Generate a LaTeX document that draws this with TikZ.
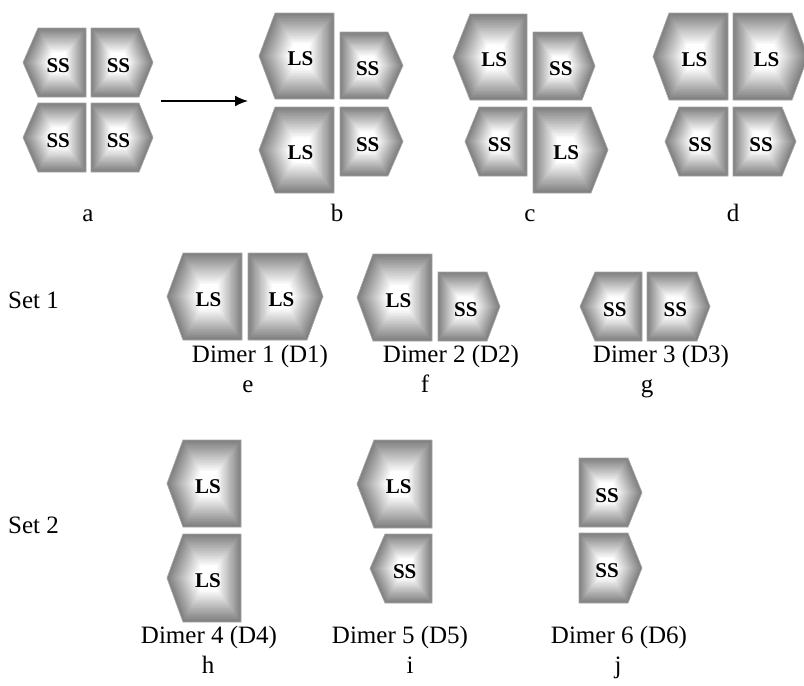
\documentclass[tikz,border=0pt]{standalone}
\usepackage{fontspec}
\setmainfont{Liberation Serif}
\usetikzlibrary{arrows.meta}
\tikzset{
  lbl/.style={inner sep=0pt, font=\fontsize{21}{23}\selectfont\bfseries},
  txt/.style={inner sep=0pt, anchor=base, font=\fontsize{25}{28}\selectfont},
  edge/.style={draw=black!35, line width=0.7pt},
  conn/.style={line width=1.8pt, -{Latex[length=13pt,width=11pt]}}
}
% #1 name, #2 dir (L/R), #3 x0, #4 y0, #5 x1, #6 y1, #7 tip depth, #8 label
\newcommand\hexcell[8]{%
  \pgfmathsetmacro\ym{(#4+#6)/2}%
  \if#2L%
    \def\pgon{({#3+#7},#4) -- (#5,#4) -- (#5,#6) -- ({#3+#7},#6) -- (#3,\ym) -- cycle}%
    \pgfmathsetmacro\xc{(#3+#5)/2+#7/4}%
  \else
    \def\pgon{(#3,#4) -- ({#5-#7},#4) -- (#5,\ym) -- ({#5-#7},#6) -- (#3,#6) -- cycle}%
    \pgfmathsetmacro\xc{(#3+#5)/2-#7/4}%
  \fi
  \foreach \i in {0,...,27}{%
    \pgfmathsetmacro\s{1-\i/28}%
    \pgfmathsetmacro\k{max(0,50*(1-\i/20))}%
    \fill[black!\k, scale around={\s:(\xc,\ym)}] \pgon;
  }%
  \draw[edge] \pgon;
  \node[lbl] (#1) at (\xc,{\ym+3}) {#8};
}
\begin{document}
\begin{tikzpicture}[x=1pt,y=-1pt]
\useasboundingbox (0,0) rectangle (804,686);
% panel a
\hexcell{a1}{L}{23}{28}{86}{97}{15}{SS}
\hexcell{a2}{R}{91}{28}{153}{97}{14}{SS}
\hexcell{a3}{L}{23}{103}{86}{172}{15}{SS}
\hexcell{a4}{R}{91}{103}{153}{172}{14}{SS}
% panel b
\hexcell{b1}{L}{259}{13}{334}{99}{16}{LS}
\hexcell{b2}{R}{340}{32}{403}{99}{15}{SS}
\hexcell{b3}{L}{259}{107}{334}{193}{16}{LS}
\hexcell{b4}{R}{340}{107}{403}{176}{15}{SS}
% panel c
\hexcell{c1}{L}{453}{14}{527}{100}{17}{LS}
\hexcell{c2}{R}{533}{32}{595}{100}{13}{SS}
\hexcell{c3}{L}{465}{107}{527}{176}{14}{SS}
\hexcell{c4}{R}{533}{107}{608}{193}{17}{LS}
% panel d
\hexcell{d1}{L}{653}{13}{728}{100}{16}{LS}
\hexcell{d2}{R}{733}{13}{808}{100}{16}{LS}
\hexcell{d3}{L}{665}{107}{728}{176}{14}{SS}
\hexcell{d4}{R}{733}{107}{796}{176}{14}{SS}
% arrow
\coordinate (arS) at (161,101);
\coordinate (arE) at (248,101);
\draw[conn] (arS) -- (arE);
% panel letters
\node[txt] (la) at (88,221) {a};
\node[txt] (lb) at (337,221) {b};
\node[txt] (lc) at (530,221) {c};
\node[txt] (ld) at (733,221) {d};
% set 1
\node[txt, anchor=base west] (set1) at (8,308) {Set 1};
\hexcell{e1}{L}{167}{253}{242}{340}{16}{LS}
\hexcell{e2}{R}{248}{253}{323}{340}{16}{LS}
\hexcell{f1}{L}{357}{254}{432}{341}{16}{LS}
\hexcell{f2}{R}{438}{272}{500}{341}{13}{SS}
\hexcell{g1}{L}{580}{272}{642}{341}{15}{SS}
\hexcell{g2}{R}{647}{272}{710}{341}{13}{SS}
\node[txt] (D1) at (260,362) {Dimer 1 (D1)};
\node[txt] (D2) at (451,362) {Dimer 2 (D2)};
\node[txt] (D3) at (661,362) {Dimer 3 (D3)};
\node[txt] (le) at (248,392) {e};
\node[txt] (lf) at (425,392) {f};
\node[txt] (lg) at (647,392) {g};
% set 2
\node[txt, anchor=base west] (set2) at (8,533) {Set 2};
\hexcell{h1}{L}{167}{440}{241}{527}{16}{LS}
\hexcell{h2}{L}{167}{534}{241}{622}{16}{LS}
\hexcell{i1}{L}{357}{440}{432}{528}{17}{LS}
\hexcell{i2}{L}{370}{534}{432}{603}{15}{SS}
\hexcell{j1}{R}{579}{458}{642}{527}{14}{SS}
\hexcell{j2}{R}{579}{533}{642}{603}{14}{SS}
\node[txt] (D4) at (209,643) {Dimer 4 (D4)};
\node[txt] (D5) at (400,643) {Dimer 5 (D5)};
\node[txt] (D6) at (619,643) {Dimer 6 (D6)};
\node[txt] (lh) at (208,673) {h};
\node[txt] (li) at (410,673) {i};
\node[txt] (lj) at (618,673) {j};
\end{tikzpicture}
\end{document}
